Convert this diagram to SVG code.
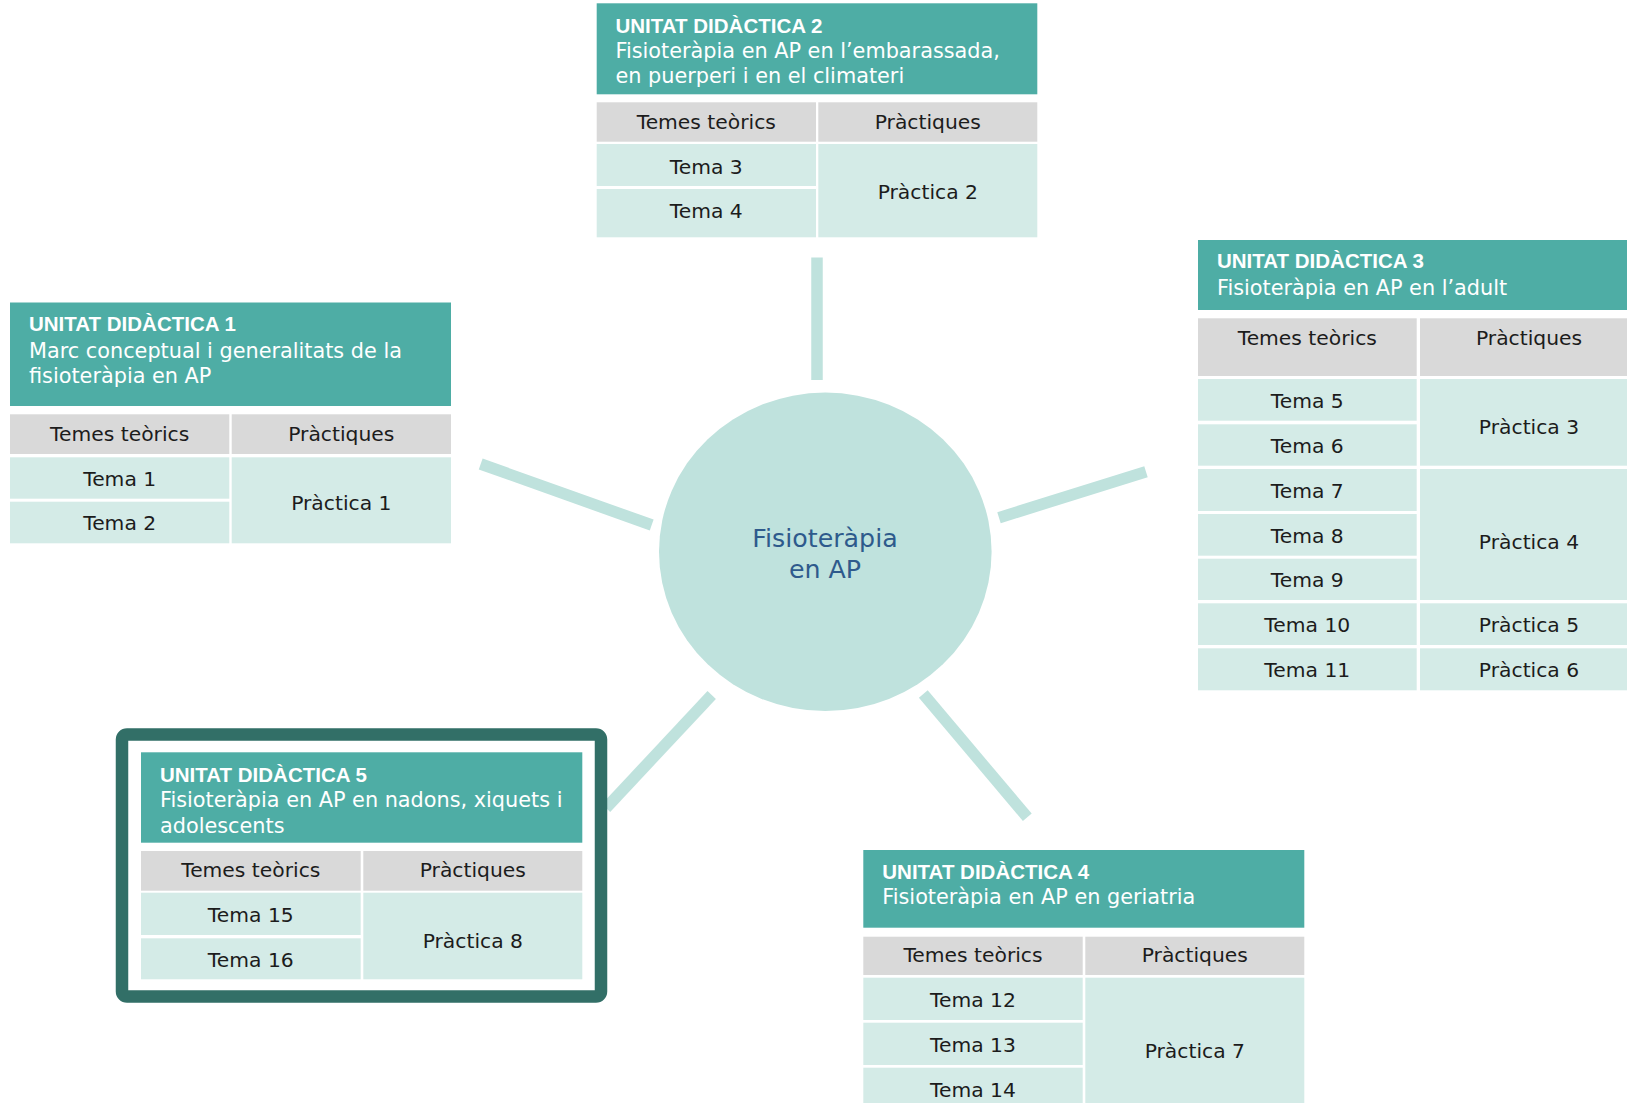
<svg xmlns="http://www.w3.org/2000/svg" width="1627" height="1103" viewBox="0 0 1627 1103">
  <style>
    .hdr { fill: #4eada5; }
    .th { fill: #d9d9d9; }
    .td { fill: #d4ebe7; }
    .title { font-family: "Liberation Sans", Arial, sans-serif; font-weight: bold; font-size: 20.5px; fill: #ffffff; }
    .sub { font-family: "DejaVu Sans", sans-serif; font-size: 20.8px; fill: #ffffff; }
    .cell { font-family: "DejaVu Sans", sans-serif; font-size: 20.3px; fill: #1c1c1c; text-anchor: middle; }
    .hub { font-family: "DejaVu Sans", sans-serif; font-size: 25.3px; fill: #2e5a8c; text-anchor: middle; }
    .link { stroke: #bfe2dd; stroke-width: 11.5; fill: none; stroke-linecap: butt; }
  </style>
  <rect width="1627" height="1103" fill="#ffffff"/>

  <!-- spokes from the hub to each unit -->
  <g id="connectors">
    <line class="link" x1="817" y1="257.5" x2="817" y2="380"/>
    <line class="link" x1="480.7" y1="464" x2="651.7" y2="525"/>
    <line class="link" x1="999" y1="517.7" x2="1146" y2="471.7"/>
    <line class="link" x1="711.7" y1="695" x2="606" y2="808"/>
    <line class="link" x1="923.3" y1="694" x2="1027.3" y2="817.3"/>
  </g>

  <!-- central hub -->
  <g id="hub">
    <ellipse cx="825.3" cy="551.8" rx="166.3" ry="159.2" fill="#bfe2dd"/>
    <text class="hub" x="825" y="546.7">Fisioteràpia</text>
    <text class="hub" x="825" y="578.3">en AP</text>
  </g>

  <!-- Unit 1 -->
  <g id="ud1">
    <rect class="hdr" x="10" y="302.5" width="441" height="103.5"/>
    <text class="title" x="29" y="331">UNITAT DIDÀCTICA 1</text>
    <text class="sub" x="29" y="357.5">Marc conceptual i generalitats de la</text>
    <text class="sub" x="29" y="382.5">fisioteràpia en AP</text>
    <rect class="th" x="10" y="414.3" width="219.3" height="39.7"/>
    <rect class="th" x="231.7" y="414.3" width="219.3" height="39.7"/>
    <text class="cell" x="119.7" y="440.7">Temes teòrics</text>
    <text class="cell" x="341.3" y="440.7">Pràctiques</text>
    <rect class="td" x="10" y="457.3" width="219.3" height="41.4"/>
    <rect class="td" x="10" y="501.7" width="219.3" height="41.6"/>
    <rect class="td" x="231.7" y="457.3" width="219.3" height="86"/>
    <text class="cell" x="119.7" y="486">Tema 1</text>
    <text class="cell" x="119.7" y="530">Tema 2</text>
    <text class="cell" x="341.3" y="510">Pràctica 1</text>
  </g>

  <!-- Unit 2 -->
  <g id="ud2">
    <rect class="hdr" x="596.7" y="3.3" width="440.6" height="91"/>
    <text class="title" x="615.5" y="33.3">UNITAT DIDÀCTICA 2</text>
    <text class="sub" x="615.5" y="58.3">Fisioteràpia en AP en l’embarassada,</text>
    <text class="sub" x="615.5" y="83.3">en puerperi i en el climateri</text>
    <rect class="th" x="596.7" y="102.3" width="219.3" height="39.4"/>
    <rect class="th" x="818.3" y="102.3" width="219" height="39.4"/>
    <text class="cell" x="706.3" y="129.3">Temes teòrics</text>
    <text class="cell" x="927.8" y="129.3">Pràctiques</text>
    <rect class="td" x="596.7" y="144" width="219.3" height="42"/>
    <rect class="td" x="596.7" y="189" width="219.3" height="48.3"/>
    <rect class="td" x="818.3" y="144" width="219" height="93.3"/>
    <text class="cell" x="706.3" y="174">Tema 3</text>
    <text class="cell" x="706.3" y="218.3">Tema 4</text>
    <text class="cell" x="927.8" y="199.3">Pràctica 2</text>
  </g>

  <!-- Unit 3 -->
  <g id="ud3">
    <rect class="hdr" x="1198" y="240" width="440" height="70"/>
    <text class="title" x="1217" y="268.3">UNITAT DIDÀCTICA 3</text>
    <text class="sub" x="1217" y="295">Fisioteràpia en AP en l’adult</text>
    <rect class="th" x="1198" y="318.3" width="218.7" height="57.7"/>
    <rect class="th" x="1420" y="318.3" width="218" height="57.7"/>
    <text class="cell" x="1307.3" y="345">Temes teòrics</text>
    <text class="cell" x="1529" y="345">Pràctiques</text>
    <rect class="td" x="1198" y="379" width="218.7" height="41.7"/>
    <rect class="td" x="1198" y="424.3" width="218.7" height="41.4"/>
    <rect class="td" x="1198" y="469" width="218.7" height="42"/>
    <rect class="td" x="1198" y="514" width="218.7" height="41.7"/>
    <rect class="td" x="1198" y="558.7" width="218.7" height="41.3"/>
    <rect class="td" x="1198" y="603.3" width="218.7" height="41.7"/>
    <rect class="td" x="1198" y="648.3" width="218.7" height="42"/>
    <rect class="td" x="1420" y="379" width="218" height="86.7"/>
    <rect class="td" x="1420" y="469" width="218" height="131"/>
    <rect class="td" x="1420" y="603.3" width="218" height="41.7"/>
    <rect class="td" x="1420" y="648.3" width="218" height="42"/>
    <text class="cell" x="1307.3" y="407.7">Tema 5</text>
    <text class="cell" x="1307.3" y="453.3">Tema 6</text>
    <text class="cell" x="1307.3" y="498.3">Tema 7</text>
    <text class="cell" x="1307.3" y="543.3">Tema 8</text>
    <text class="cell" x="1307.3" y="587.3">Tema 9</text>
    <text class="cell" x="1307.3" y="632.3">Tema 10</text>
    <text class="cell" x="1307.3" y="677.3">Tema 11</text>
    <text class="cell" x="1529" y="434.3">Pràctica 3</text>
    <text class="cell" x="1529" y="549.3">Pràctica 4</text>
    <text class="cell" x="1529" y="632.3">Pràctica 5</text>
    <text class="cell" x="1529" y="677.3">Pràctica 6</text>
  </g>

  <!-- Unit 4 -->
  <g id="ud4">
    <rect class="hdr" x="863.3" y="850" width="441" height="77.7"/>
    <text class="title" x="882.3" y="879.3">UNITAT DIDÀCTICA 4</text>
    <text class="sub" x="882.3" y="904.3">Fisioteràpia en AP en geriatria</text>
    <rect class="th" x="863.3" y="936.7" width="219.4" height="38.3"/>
    <rect class="th" x="1085.3" y="936.7" width="219" height="38.3"/>
    <text class="cell" x="973" y="961.7">Temes teòrics</text>
    <text class="cell" x="1194.8" y="961.7">Pràctiques</text>
    <rect class="td" x="863.3" y="977.7" width="219.4" height="42.3"/>
    <rect class="td" x="863.3" y="1022.7" width="219.4" height="42.3"/>
    <rect class="td" x="863.3" y="1067.7" width="219.4" height="45"/>
    <rect class="td" x="1085.3" y="977.7" width="219" height="135"/>
    <text class="cell" x="973" y="1006.7">Tema 12</text>
    <text class="cell" x="973" y="1051.7">Tema 13</text>
    <text class="cell" x="973" y="1096.7">Tema 14</text>
    <text class="cell" x="1194.8" y="1058.3">Pràctica 7</text>
  </g>

  <!-- Unit 5, framed -->
  <g id="ud5">
    <rect x="122" y="734.5" width="479" height="262" rx="5" fill="#ffffff" stroke="#326f67" stroke-width="12.5"/>
    <rect class="hdr" x="141" y="752.3" width="441.3" height="90.4"/>
    <text class="title" x="160" y="781.7">UNITAT DIDÀCTICA 5</text>
    <text class="sub" x="160" y="807.3">Fisioteràpia en AP en nadons, xiquets i</text>
    <text class="sub" x="160" y="833.3">adolescents</text>
    <rect class="th" x="141" y="851" width="219.7" height="39.7"/>
    <rect class="th" x="363.3" y="851" width="219" height="39.7"/>
    <text class="cell" x="250.8" y="876.7">Temes teòrics</text>
    <text class="cell" x="472.8" y="876.7">Pràctiques</text>
    <rect class="td" x="141" y="892.7" width="219.7" height="42.3"/>
    <rect class="td" x="141" y="938.3" width="219.7" height="41"/>
    <rect class="td" x="363.3" y="892.7" width="219" height="86.6"/>
    <text class="cell" x="250.8" y="921.7">Tema 15</text>
    <text class="cell" x="250.8" y="966.7">Tema 16</text>
    <text class="cell" x="472.8" y="948.3">Pràctica 8</text>
  </g>
</svg>
